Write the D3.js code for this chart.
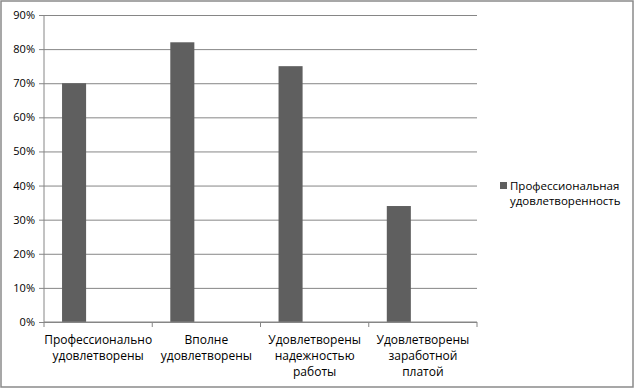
<!DOCTYPE html>
<html>
<head>
<meta charset="utf-8">
<script src="https://cdn.jsdelivr.net/npm/d3@7"></script>
<style>
  body { margin: 0; background: #fff; }
  text { font-family: "Open Sans", "DejaVu Sans", sans-serif; }
</style>
</head>
<body>
<svg></svg>
<script>
const w = 635
const h = 389

// data
const categories = [
  ['Профессионально', 'удовлетворены'],
  ['Вполне', 'удовлетворены'],
  ['Удовлетворены', 'надежностью', 'работы'],
  ['Удовлетворены', 'заработной', 'платой']
];
const values = [0.70, 0.82, 0.75, 0.34];
const seriesName = ['Профессиональная', 'удовлетворенность'];
const yTicks = [0, 0.1, 0.2, 0.3, 0.4, 0.5, 0.6, 0.7, 0.8, 0.9];

const svg = d3.select('svg')
  .attr('width', w)
  .attr('height', h);

// outer frame
svg.append('rect')
  .attr('x', 1).attr('y', 1)
  .attr('width', w - 3).attr('height', h - 3)
  .attr('fill', '#fff')
  .attr('stroke', '#8a8a8a')
  .attr('stroke-width', 1.5);

const margin = {top: 15, right: 158, bottom: 67, left: 44};
const innerWidth = w - margin.left - margin.right;
const innerHeight = h - margin.top - margin.bottom;

const g = svg.append('g')
  .attr('transform', `translate(${margin.left}, ${margin.top})`);

const keys = categories.map((d, i) => i);

const x0 = d3.scaleBand()
  .domain(keys)
  .range([0, innerWidth]);

// three slots per category, only the first is filled (like the source)
const x1 = d3.scaleBand()
  .domain([0, 1, 2])
  .range([0, x0.bandwidth()])
  .paddingOuter(0.75);

const yScale = d3.scaleLinear()
  .domain([0, 0.9])
  .range([innerHeight, 0]);

// gridlines
const yAxis = d3.axisLeft(yScale)
  .tickValues(yTicks)
  .tickFormat(d3.format('.0%'))
  .tickSize(-innerWidth)
  .tickPadding(9);

const yAxisG = g.append('g').call(yAxis);
yAxisG.select('.domain').remove();
yAxisG.selectAll('.tick line')
  .attr('stroke', '#868686')
  .attr('x1', -5);
yAxisG.selectAll('.tick text')
  .attr('font-size', '11px')
  .attr('fill', '#000');

// bars
g.selectAll('rect.bar').data(values)
  .enter().append('rect')
  .attr('class', 'bar')
  .attr('x', (d, i) => x0(i) + x1(0))
  .attr('width', x1.bandwidth())
  .attr('y', d => yScale(d))
  .attr('height', d => innerHeight - yScale(d))
  .attr('fill', '#5f5f5f');

// y axis line
g.append('line')
  .attr('x1', 0).attr('x2', 0)
  .attr('y1', 0).attr('y2', innerHeight)
  .attr('stroke', '#868686');

// x axis
const xAxisG = g.append('g')
  .attr('transform', `translate(0, ${innerHeight})`);
xAxisG.append('line')
  .attr('x1', 0).attr('x2', innerWidth)
  .attr('stroke', '#868686');
xAxisG.selectAll('line.tk').data(keys.concat([keys.length]))
  .enter().append('line')
  .attr('class', 'tk')
  .attr('x1', d => d < keys.length ? x0(d) : innerWidth)
  .attr('x2', d => d < keys.length ? x0(d) : innerWidth)
  .attr('y1', 0).attr('y2', 5)
  .attr('stroke', '#868686');

const labels = xAxisG.selectAll('text.cat').data(categories)
  .enter().append('text')
  .attr('class', 'cat')
  .attr('text-anchor', 'middle')
  .attr('font-size', '12px')
  .attr('fill', '#000')
  .attr('transform', (d, i) => `translate(${x0(i) + x0.bandwidth() / 2}, 22)`);
labels.selectAll('tspan').data(d => d)
  .enter().append('tspan')
  .attr('x', 0)
  .attr('dy', (d, i) => i === 0 ? 0 : 16)
  .text(d => d);

// legend
const legend = svg.append('g')
  .attr('transform', 'translate(500, 190)');
legend.append('rect')
  .attr('x', 0).attr('y', -8)
  .attr('width', 7).attr('height', 7)
  .attr('fill', '#5f5f5f');
legend.append('text')
  .attr('font-size', '11.5px')
  .attr('fill', '#000')
  .selectAll('tspan').data(seriesName)
  .enter().append('tspan')
  .attr('x', 10)
  .attr('dy', (d, i) => i === 0 ? 0 : 15)
  .text(d => d);
</script>
</body>
</html>
